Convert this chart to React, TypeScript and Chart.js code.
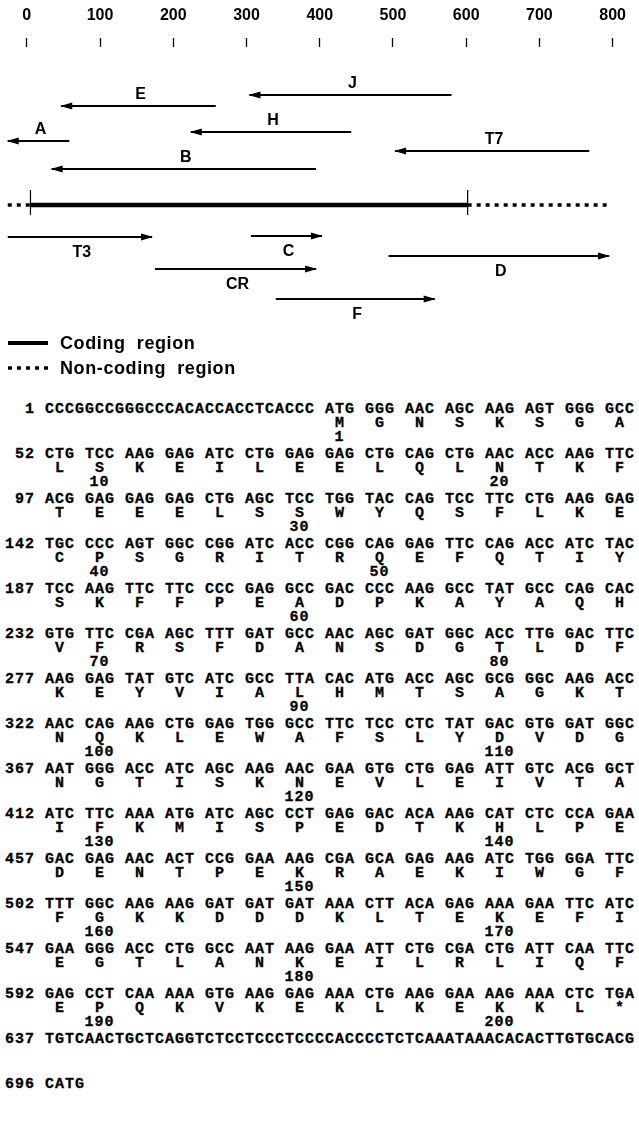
import React, { useEffect, useRef } from "react";
import { Chart, registerables } from "chart.js";

Chart.register(...registerables);

// ---------- ruler / map data ----------
const AXIS_TICKS = [0, 100, 200, 300, 400, 500, 600, 700, 800];
const X_MIN = -36.6;
const X_MAX = 829.8;
const Y_MAX = 34.3;

// sequencing reads: arrow goes from READ_FROM to READ_TO (head at READ_TO)
const READ_NAMES = ["J", "E", "H", "A", "T7", "B", "T3", "C", "D", "CR", "F"];
const READ_FROM = [580, 258, 443, 58, 768, 395, -26, 306, 494, 175, 340];
const READ_TO = [304, 47, 224, -26, 503, 34, 171, 403, 795, 395, 557];
const READ_LANE = [4.8, 5.9, 8.5, 9.4, 10.4, 12.2, 19.0, 18.9, 20.9, 22.2, 25.2];

const MAP_LANE = 15.8;
const CODING = [5, 602];
const NONCODING_LEFT = [-26, 5];
const NONCODING_RIGHT = [602, 793];
const BOUNDARY_SPAN = [14.3, 16.8];

const LEGEND_LABELS = ["Coding  region", "Non-coding  region"];

// ---------- sequence data ----------
const NT_START = [1, 52, 97, 142, 187, 232, 277, 322, 367, 412, 457, 502, 547, 592, 637, 696];
const NT_ROWS = [
  "CCCGGCCGGGCCCACACCACCTCACCC ATG GGG AAC AGC AAG AGT GGG GCC",
  "CTG TCC AAG GAG ATC CTG GAG GAG CTG CAG CTG AAC ACC AAG TTC",
  "ACG GAG GAG GAG CTG AGC TCC TGG TAC CAG TCC TTC CTG AAG GAG",
  "TGC CCC AGT GGC CGG ATC ACC CGG CAG GAG TTC CAG ACC ATC TAC",
  "TCC AAG TTC TTC CCC GAG GCC GAC CCC AAG GCC TAT GCC CAG CAC",
  "GTG TTC CGA AGC TTT GAT GCC AAC AGC GAT GGC ACC TTG GAC TTC",
  "AAG GAG TAT GTC ATC GCC TTA CAC ATG ACC AGC GCG GGC AAG ACC",
  "AAC CAG AAG CTG GAG TGG GCC TTC TCC CTC TAT GAC GTG GAT GGC",
  "AAT GGG ACC ATC AGC AAG AAC GAA GTG CTG GAG ATT GTC ACG GCT",
  "ATC TTC AAA ATG ATC AGC CCT GAG GAC ACA AAG CAT CTC CCA GAA",
  "GAC GAG AAC ACT CCG GAA AAG CGA GCA GAG AAG ATC TGG GGA TTC",
  "TTT GGC AAG AAG GAT GAT GAT AAA CTT ACA GAG AAA GAA TTC ATC",
  "GAA GGG ACC CTG GCC AAT AAG GAA ATT CTG CGA CTG ATT CAA TTC",
  "GAG CCT CAA AAA GTG AAG GAG AAA CTG AAG GAA AAG AAA CTC TGA",
  "TGTCAACTGCTCAGGTCTCCTCCCTCCCCACCCCTCTCAAATAAACACACTTGTGCACG",
  "CATG",
];
const AA_ROWS = [
  "MGNSKSGA",
  "LSKEILEELQLNTKF",
  "TEEELSSWYQSFLKE",
  "CPSGRITRQEFQTIY",
  "SKFFPEADPKAYAQH",
  "VFRSFDANSDGTLDF",
  "KEYVIALHMTSAGKT",
  "NQKLEWAFSLYDVDG",
  "NGTISKNEVLEIVTA",
  "IFKMISPEDTKHLPE",
  "DENTPEKRAEKIWGF",
  "FGKKDDDKLTEKEFI",
  "EGTLANKEILRLIQF",
  "EPQKVKEKLKEKKL*",
];
// [residue number, codon column in that row]
const AA_NUMBERS: number[][][] = [
  [[1, 0]],
  [[10, 1], [20, 11]],
  [[30, 6]],
  [[40, 1], [50, 8]],
  [[60, 6]],
  [[70, 1], [80, 11]],
  [[90, 6]],
  [[100, 1], [110, 11]],
  [[120, 6]],
  [[130, 1], [140, 11]],
  [[150, 6]],
  [[160, 1], [170, 11]],
  [[180, 6]],
  [[190, 1], [200, 11]],
];

// ---------- layout constants ----------
const SANS = '"Liberation Sans", Arial, Helvetica, sans-serif';
const MONO = '"Liberation Mono", "Courier New", monospace';
const SEQ_X0 = 5;
const CW = 10;
const FONT_PX = 15;
const SEQ_Y0 = 410;
const BLOCK_H = 45;
const AA_DY = 14;
const NUM_DY = 28;

function codonStarts(row: string, n: number): number[] {
  const out: number[] = [];
  for (let i = 0; i < n; i++) out.push(row.length - 3 - 4 * (n - 1 - i));
  return out;
}

const mapPlugin = {
  id: "mapDecor",
  afterDatasetsDraw(chart: any) {
    const ctx = chart.ctx as CanvasRenderingContext2D;
    ctx.save();
    ctx.fillStyle = "#000";
    ctx.strokeStyle = "#000";
    READ_NAMES.forEach((name, i) => {
      const meta = chart.getDatasetMeta(i);
      const p0 = meta.data[0];
      const p1 = meta.data[1];
      const dir = Math.sign(p1.x - p0.x);
      ctx.beginPath();
      ctx.moveTo(p1.x + dir * 1, p1.y);
      ctx.lineTo(p1.x - dir * 11, p1.y - 3.6);
      ctx.lineTo(p1.x - dir * 11, p1.y + 3.6);
      ctx.closePath();
      ctx.fill();
      ctx.font = `bold 16px ${SANS}`;
      ctx.textAlign = "center";
      ctx.textBaseline = "middle";
      const mx = (p0.x + p1.x) / 2 + 2;
      const my = dir < 0 ? p1.y - 11 : p1.y + 16;
      ctx.fillText(name, mx, my);
    });
    // legend
    const ly = [343, 368];
    ctx.lineWidth = 4;
    ctx.setLineDash([]);
    ctx.beginPath();
    ctx.moveTo(8, ly[0]);
    ctx.lineTo(48, ly[0]);
    ctx.stroke();
    ctx.lineWidth = 3.5;
    ctx.setLineDash([4, 5]);
    ctx.beginPath();
    ctx.moveTo(8, ly[1]);
    ctx.lineTo(49, ly[1]);
    ctx.stroke();
    ctx.setLineDash([]);
    ctx.font = `bold 18px ${SANS}`;
    (ctx as any).letterSpacing = "0.6px";
    ctx.textAlign = "left";
    ctx.textBaseline = "middle";
    LEGEND_LABELS.forEach((t, i) => ctx.fillText(t, 60, ly[i] + 1));
    (ctx as any).letterSpacing = "0px";
    ctx.restore();
  },
};

export default function App() {
  const ref = useRef<HTMLCanvasElement>(null);

  useEffect(() => {
    if (!ref.current) return;
    const seg = (a: number[], y: number) => [
      { x: a[0], y },
      { x: a[1], y },
    ];
    const datasets: any[] = READ_NAMES.map((n, i) => ({
      label: n,
      data: [
        { x: READ_FROM[i], y: READ_LANE[i] },
        { x: READ_TO[i], y: READ_LANE[i] },
      ],
      showLine: true,
      borderColor: "#000",
      borderWidth: 2,
      pointRadius: 0,
    }));
    datasets.push({
      label: "coding",
      data: seg(CODING, MAP_LANE),
      showLine: true,
      borderColor: "#000",
      borderWidth: 4.5,
      pointRadius: 0,
    });
    [NONCODING_LEFT, NONCODING_RIGHT].forEach((r, i) =>
      datasets.push({
        label: "noncoding" + i,
        data: seg(r, MAP_LANE),
        showLine: true,
        borderColor: "#000",
        borderWidth: 3.5,
        borderDash: [4, 5],
        pointRadius: 0,
      })
    );
    CODING.forEach((x, i) =>
      datasets.push({
        label: "bound" + i,
        data: [
          { x, y: BOUNDARY_SPAN[0] },
          { x, y: BOUNDARY_SPAN[1] },
        ],
        showLine: true,
        borderColor: "#000",
        borderWidth: 1.2,
        pointRadius: 0,
      })
    );

    const chart = new Chart(ref.current, {
      type: "scatter",
      data: { datasets },
      options: {
        animation: false,
        responsive: false,
        layout: { padding: { top: 0, left: 0, right: 0, bottom: 0 } },
        plugins: { legend: { display: false }, tooltip: { enabled: false } },
        scales: {
          x: {
            type: "linear",
            position: "top",
            min: X_MIN,
            max: X_MAX,
            afterBuildTicks: (s: any) => {
              s.ticks = AXIS_TICKS.map((v) => ({ value: v }));
            },
            afterFit: (s: any) => {
              s.height = 47;
            },
            ticks: {
              color: "#000",
              font: { family: SANS, size: 16, weight: "bold" },
              padding: 13,
              maxRotation: 0,
              autoSkip: false,
            },
            grid: {
              drawOnChartArea: false,
              drawTicks: true,
              tickLength: 9,
              tickColor: "#000",
              tickWidth: 1.3,
            },
            border: { display: false },
          },
          y: { type: "linear", display: false, min: 0, max: Y_MAX, reverse: true },
        },
      } as any,
      plugins: [mapPlugin],
    });
    return () => chart.destroy();
  }, []);

  const rowStyle: React.CSSProperties = {
    position: "absolute",
    left: SEQ_X0,
    height: 16,
    lineHeight: "16px",
    fontFamily: MONO,
    fontWeight: "bold",
    fontSize: FONT_PX,
    letterSpacing: `${CW - FONT_PX * 0.6}px`,
    whiteSpace: "pre",
    color: "#000",
    margin: 0,
    WebkitTextStroke: "0.3px #000",
  } as React.CSSProperties;

  const rows: React.ReactNode[] = [];
  NT_ROWS.forEach((row, k) => {
    const yc = SEQ_Y0 + BLOCK_H * k;
    const prefix = String(NT_START[k]).padStart(3, " ") + " ";
    rows.push(
      <div key={"nt" + k} style={{ ...rowStyle, top: yc - 8 }}>
        {prefix + row}
      </div>
    );
    const aa = AA_ROWS[k];
    if (aa) {
      const starts = codonStarts(row, aa.length);
      const chars = new Array(prefix.length + row.length).fill(" ");
      starts.forEach((s, i) => {
        chars[prefix.length + s + 1] = aa[i];
      });
      rows.push(
        <div key={"aa" + k} style={{ ...rowStyle, top: yc + AA_DY - 8 }}>
          {chars.join("").replace(/\s+$/, "")}
        </div>
      );
      (AA_NUMBERS[k] || []).forEach(([num, col], j) => {
        const c = prefix.length + starts[col] + 1;
        const cx = SEQ_X0 + c * CW + (FONT_PX * 0.6) / 2;
        rows.push(
          <div
            key={"n" + k + "_" + j}
            style={{
              ...rowStyle,
              left: cx,
              top: yc + NUM_DY - 8,
              transform: "translateX(-50%)",
            }}
          >
            {String(num)}
          </div>
        );
      });
    }
  });

  return (
    <div
      style={{
        position: "absolute",
        left: 0,
        top: 0,
        width: 639,
        height: 1145,
        background: "#fff",
        overflow: "hidden",
      }}
    >
      <canvas ref={ref} width={639} height={390} style={{ position: "absolute", left: 0, top: 0 }} />
      {rows}
    </div>
  );
}
